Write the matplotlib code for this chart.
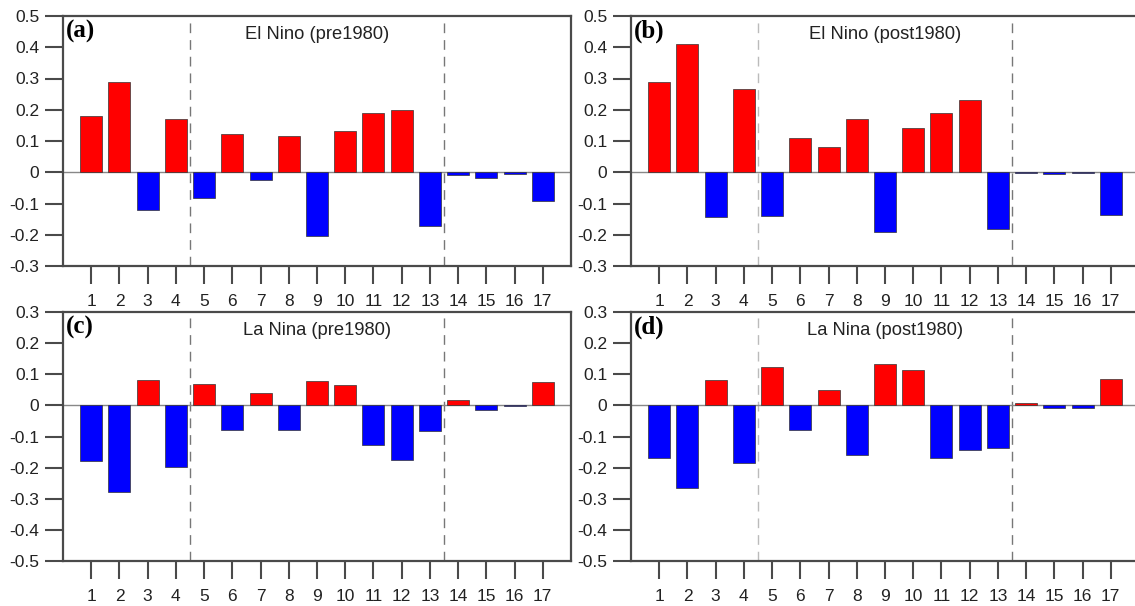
import numpy as np
from matplotlib import pyplot as plt

months = np.arange(1, 18)

el_nino_pre = [0.18, 0.29, -0.12, 0.17, -0.083, 0.124, -0.024, 0.117, -0.205,
               0.133, 0.191, 0.20, -0.171, -0.009, -0.019, -0.004, -0.093]
el_nino_post = [0.29, 0.41, -0.144, 0.265, -0.141, 0.11, 0.08, 0.169, -0.19,
                0.141, 0.19, 0.23, -0.183, -0.003, -0.006, -0.002, -0.138]
la_nina_pre = [-0.18, -0.278, 0.081, -0.197, 0.07, -0.078, 0.039, -0.078, 0.077,
               0.066, -0.126, -0.174, -0.082, 0.017, -0.015, -0.001, 0.075]
la_nina_post = [-0.17, -0.266, 0.081, -0.185, 0.123, -0.08, 0.048, -0.159, 0.132,
                0.115, -0.169, -0.144, -0.137, 0.008, -0.007, -0.007, 0.084]

panels = [
    ("(a)", "El Nino (pre1980)", el_nino_pre, (-0.3, 0.5)),
    ("(b)", "El Nino (post1980)", el_nino_post, (-0.3, 0.5)),
    ("(c)", "La Nina (pre1980)", la_nina_pre, (-0.5, 0.3)),
    ("(d)", "La Nina (post1980)", la_nina_post, (-0.5, 0.3)),
]

W, H = 1135, 606
fig = plt.figure(figsize=(W / 100, H / 100), dpi=100)

# axes boxes in pixels: left, top, right, bottom (right panels run off the edge)
boxes = [(63, 16, 571, 266), (631, 16, 1139, 266),
         (63, 312, 571, 561), (631, 312, 1139, 561)]

frame_col = '#4a4a4a'


def fmt(v):
    if abs(v) < 1e-9:
        return "0"
    return "%.1f" % v


for i, ((lab, title, vals, ylim), (l, t, r, b)) in enumerate(zip(panels, boxes)):
    ax = fig.add_axes([l / W, 1 - b / H, (r - l) / W, (b - t) / H])
    vals = np.array(vals)
    colors = ['#ff0000' if v > 0 else '#0000ff' for v in vals]
    ax.bar(months, vals, width=0.78, color=colors, edgecolor='#333333',
           linewidth=0.5, zorder=3)
    ax.axhline(0, color='#888888', lw=1.0, zorder=2)
    first_col = '#777777' if i % 2 == 0 else '#bbbbbb'
    ax.axvline(4.5, color=first_col, lw=1.0, ls=(0, (7, 5)), zorder=1)
    ax.axvline(13.5, color='#777777', lw=1.0, ls=(0, (7, 5)), zorder=1)

    ax.set_xlim(0, 18)
    ax.set_ylim(*ylim)
    ax.set_xticks(months)
    ax.set_xticklabels([str(m) for m in months], fontsize=12.5,
                       family='Liberation Sans', color='#222222')
    yt = np.round(np.arange(ylim[0], ylim[1] + 0.001, 0.1), 1)
    ax.set_yticks(yt)
    ax.set_yticklabels([fmt(v) for v in yt], fontsize=12.5,
                       family='Liberation Sans', color='#222222')
    ax.tick_params(axis='both', direction='out', length=13, width=1.5,
                   color=frame_col)
    ax.tick_params(axis='x', pad=7)
    ax.tick_params(axis='y', pad=4)
    for s in ax.spines.values():
        s.set_linewidth(1.6)
        s.set_color(frame_col)

    ax.text(0.006, 0.985, lab, transform=ax.transAxes, ha='left', va='top',
            fontsize=18, fontweight='bold', family='Liberation Serif')
    ax.text(0.5, 0.96, title, transform=ax.transAxes, ha='center', va='top',
            fontsize=13.2, family='Liberation Sans', color='#222222')

plt.savefig("out.png", dpi=100)
